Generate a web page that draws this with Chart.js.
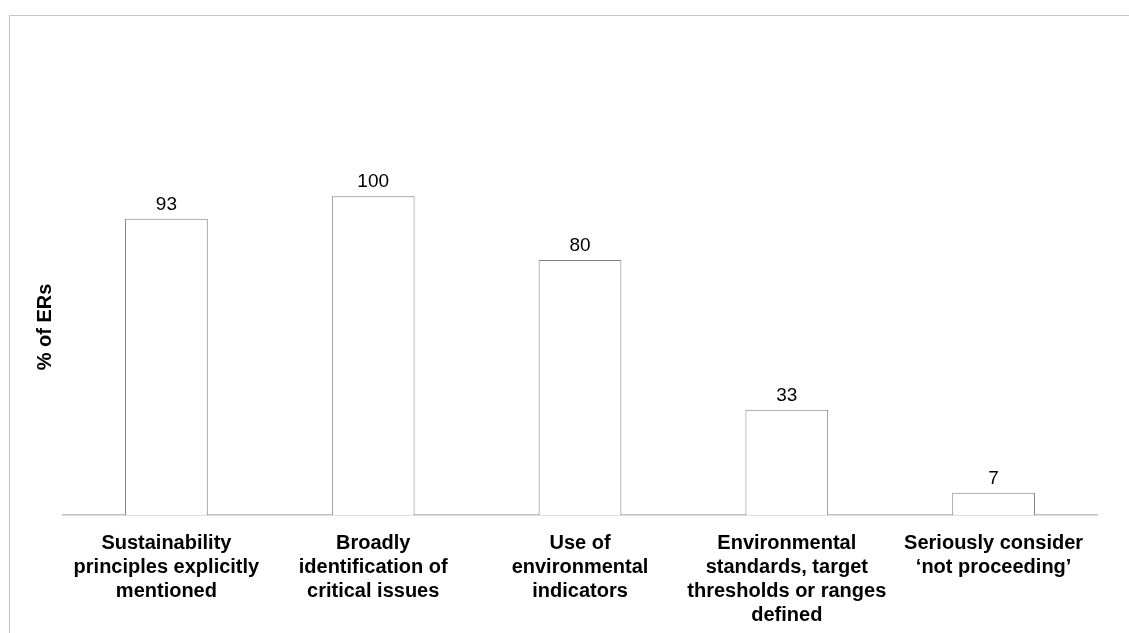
<!DOCTYPE html>
<html>
<head>
<meta charset="utf-8">
<title>% of ERs</title>
<script src="https://cdn.jsdelivr.net/npm/chart.js@4"></script>
<style>
  html, body { margin: 0; padding: 0; background: #ffffff; }
  #wrap { position: relative; width: 1129px; height: 633px; overflow: hidden; }
  #frame {
    position: absolute; left: 9px; top: 15px; right: 0; bottom: 0;
    border-top: 1px solid #c6c6c6; border-left: 1px solid #c6c6c6;
    pointer-events: none;
  }
  #chart { position: absolute; left: 0; top: 0; }
</style>
</head>
<body>
<div id="wrap">
  <div id="frame"></div>
  <canvas id="chart" width="1129" height="633"></canvas>
</div>
<script>
// Criteria assessed in the environmental reports, one multi-line label each
const categories = [
  ["Sustainability", "principles explicitly", "mentioned"],
  ["Broadly", "identification of", "critical issues"],
  ["Use of", "environmental", "indicators"],
  ["Environmental", "standards, target", "thresholds or ranges", "defined"],
  ["Seriously consider", "\u2018not proceeding\u2019"]
];

// Share of ERs meeting each criterion (%)
const shares = [93, 100, 80, 33, 7];

const yAxisTitle = "% of ERs";

const FONT = "'Liberation Sans', Arial, Helvetica, sans-serif";

// Writes each bar's value just above its top
const valueLabels = {
  id: "valueLabels",
  afterDatasetsDraw(chart) {
    const ctx = chart.ctx;
    const meta = chart.getDatasetMeta(0);
    ctx.save();
    ctx.font = "19px " + FONT;
    ctx.fillStyle = "#000000";
    ctx.textAlign = "center";
    ctx.textBaseline = "alphabetic";
    meta.data.forEach((bar, i) => {
      ctx.fillText(String(shares[i]), bar.x, bar.y - 9);
    });
    ctx.restore();
  }
};

new Chart(document.getElementById("chart"), {
  type: "bar",
  data: {
    labels: categories,
    datasets: [{
      data: shares,
      backgroundColor: "#ffffff",
      borderColor: "#7f7f7f",
      borderWidth: 1,
      categoryPercentage: 1.0,
      barPercentage: 0.4
    }]
  },
  options: {
    responsive: false,
    animation: false,
    devicePixelRatio: 1,
    layout: { padding: { top: 139, right: 32, bottom: 0, left: 0 } },
    plugins: {
      legend: { display: false },
      tooltip: { enabled: false },
      title: { display: false }
    },
    scales: {
      x: {
        grid: { display: false, drawTicks: false },
        border: { display: true, color: "#c0c0c0", width: 1.5 },
        ticks: {
          color: "#000000",
          font: { family: FONT, size: 20, weight: "bold", lineHeight: 1.2 },
          padding: 16,
          maxRotation: 0,
          autoSkip: false
        },
        afterFit(scale) { scale.height = 118; }
      },
      y: {
        min: 0,
        max: 118,
        grid: { display: false, drawTicks: false },
        border: { display: false },
        ticks: { display: false },
        title: {
          display: true,
          text: yAxisTitle,
          color: "#000000",
          font: { family: FONT, size: 20, weight: "bold", lineHeight: 1.2 },
          padding: { top: 33, bottom: 0 }
        },
        afterFit(scale) { scale.width = 63; }
      }
    }
  },
  plugins: [valueLabels]
});
</script>
</body>
</html>
